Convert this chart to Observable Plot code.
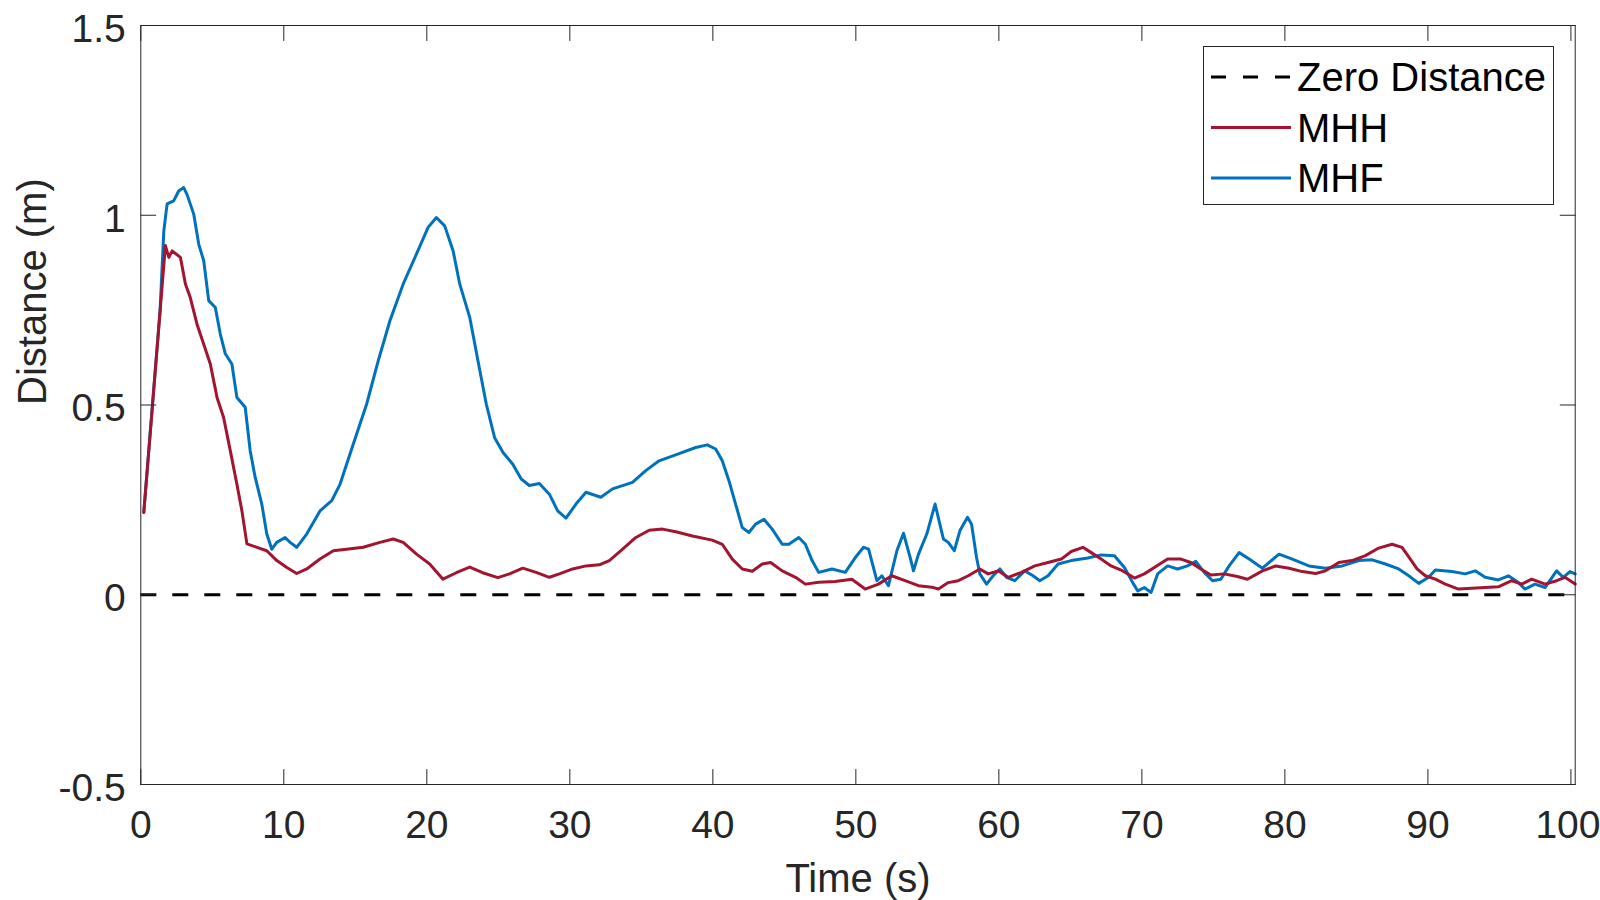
<!DOCTYPE html>
<html>
<head>
<meta charset="utf-8">
<script src="https://cdn.jsdelivr.net/npm/d3@7"></script>
<script src="https://cdn.jsdelivr.net/npm/@observablehq/plot@0.6"></script>
<style>
  html, body { margin: 0; padding: 0; background: #fff; }
  #chart { position: relative; width: 1600px; height: 900px; }
</style>
</head>
<body>
<div id="chart"></div>
<script>
// ---- data ----
const xTicks = [0, 10, 20, 30, 40, 50, 60, 70, 80, 90, 100];
const yTicks = [-0.5, 0, 0.5, 1, 1.5];
const xDomain = [0, 100.3];
const yDomain = [-0.5, 1.5];

const mhhTime = [0.21,1.72,1.96,2.19,2.77,3.12,3.46,3.93,4.4,4.86,5.33,5.79,6.26,6.72,7.07,7.42,8.12,8.81,9.51,10.21,10.9,11.6,12.53,13.46,14.39,15.55,16.72,17.65,18.35,19.28,20.2,21.13,22.06,23.0,23.9,24.97,25.78,26.71,27.64,28.57,29.27,30.2,31.13,32.06,32.76,33.69,34.62,35.55,36.48,37.41,38.57,39.96,40.66,41.36,42.06,42.76,43.45,44.04,44.85,45.78,46.47,47.4,48.56,49.72,50.65,51.58,52.51,53.44,54.38,55.31,55.77,56.46,57.16,57.86,58.67,59.25,59.95,60.65,61.58,62.51,63.44,64.37,65.06,65.88,66.46,67.15,67.85,68.55,69.48,70.17,70.87,71.8,72.73,73.42,74.12,74.82,75.75,76.68,77.38,78.43,79.36,80.29,81.22,82.15,82.84,83.77,84.7,85.63,86.56,87.49,88.19,88.77,89.24,89.82,90.52,91.22,92.14,93.07,94.0,94.93,95.86,96.56,97.26,98.19,99.0,99.58,100.3];
const mhhDist = [0.217,0.92,0.889,0.906,0.889,0.819,0.783,0.713,0.660,0.608,0.520,0.467,0.379,0.291,0.221,0.134,0.125,0.116,0.090,0.072,0.056,0.068,0.094,0.116,0.120,0.125,0.138,0.147,0.138,0.107,0.081,0.041,0.058,0.073,0.058,0.045,0.055,0.070,0.059,0.046,0.055,0.068,0.076,0.079,0.090,0.120,0.151,0.170,0.173,0.166,0.155,0.144,0.133,0.094,0.068,0.062,0.081,0.085,0.063,0.046,0.028,0.033,0.035,0.041,0.015,0.028,0.050,0.037,0.024,0.020,0.015,0.032,0.037,0.050,0.068,0.055,0.063,0.046,0.059,0.076,0.085,0.094,0.114,0.125,0.111,0.094,0.076,0.065,0.044,0.055,0.072,0.094,0.094,0.085,0.068,0.052,0.055,0.048,0.041,0.063,0.076,0.070,0.061,0.056,0.063,0.085,0.090,0.103,0.123,0.133,0.125,0.094,0.068,0.050,0.041,0.028,0.015,0.017,0.019,0.021,0.037,0.028,0.041,0.028,0.037,0.046,0.028];

const mhfTime = [0.21,1.35,1.61,1.84,2.3,2.65,3.0,3.23,3.7,4.05,4.4,4.75,5.21,5.56,5.91,6.37,6.72,7.3,7.65,8.0,8.46,8.81,9.16,9.51,10.09,10.44,10.9,11.6,12.53,13.35,13.93,14.86,15.79,16.6,17.42,18.35,19.28,20.09,20.67,21.25,21.84,22.3,23.0,23.58,24.16,24.74,25.33,26.01,26.6,27.17,27.87,28.57,29.15,29.73,30.43,31.13,32.17,32.99,34.38,35.31,36.24,37.64,38.8,39.61,40.2,40.66,41.13,41.59,42.06,42.52,42.99,43.57,44.15,44.85,45.31,46.01,46.47,46.94,47.4,48.33,49.26,49.96,50.54,50.89,51.47,51.82,52.28,52.87,53.33,53.8,54.03,54.38,54.96,55.54,56.12,56.46,56.88,57.28,57.81,58.09,58.44,58.67,59.14,59.6,60.07,60.53,61.11,61.81,62.39,62.86,63.44,64.14,65.06,66.22,67.15,68.08,68.78,69.36,69.71,70.17,70.64,71.1,71.8,72.5,73.19,73.77,74.36,74.94,75.52,76.1,76.8,77.5,78.43,79.59,80.52,81.68,82.84,84.01,85.17,86.1,87.03,87.96,88.66,89.36,90.05,90.52,91.68,92.61,93.31,94.0,94.93,95.63,96.33,96.79,97.49,98.19,99.0,99.47,99.93,100.3];
const mhfDist = [0.217,0.75,0.959,1.03,1.038,1.064,1.073,1.055,1.003,0.924,0.880,0.775,0.757,0.687,0.635,0.608,0.520,0.494,0.379,0.309,0.239,0.160,0.120,0.138,0.151,0.138,0.125,0.160,0.221,0.248,0.291,0.397,0.502,0.616,0.722,0.819,0.898,0.968,0.994,0.972,0.906,0.819,0.731,0.616,0.502,0.414,0.375,0.344,0.305,0.288,0.293,0.265,0.221,0.202,0.239,0.270,0.257,0.279,0.296,0.327,0.353,0.372,0.388,0.395,0.384,0.353,0.300,0.239,0.177,0.164,0.186,0.199,0.173,0.133,0.133,0.151,0.133,0.090,0.059,0.068,0.059,0.098,0.125,0.120,0.037,0.050,0.024,0.116,0.162,0.098,0.063,0.107,0.160,0.239,0.147,0.138,0.116,0.169,0.204,0.186,0.098,0.055,0.028,0.050,0.068,0.046,0.037,0.063,0.050,0.037,0.050,0.081,0.090,0.097,0.105,0.103,0.072,0.032,0.010,0.019,0.006,0.055,0.076,0.068,0.076,0.088,0.059,0.037,0.041,0.076,0.111,0.094,0.070,0.107,0.094,0.076,0.070,0.076,0.090,0.092,0.081,0.068,0.050,0.030,0.046,0.065,0.061,0.055,0.063,0.046,0.039,0.050,0.032,0.015,0.028,0.019,0.063,0.046,0.061,0.055];

const legendLabels = ["Zero Distance", "MHH", "MHF"];
const legendColors = ["#000000", "#A2142F", "#0072BD"];
const legendDash = ["16,16", null, null];

// ---- build tables ----
const mhh = mhhTime.map((t, i) => ({t, d: mhhDist[i]}));
const mhf = mhfTime.map((t, i) => ({t, d: mhfDist[i]}));

const axisColor = "#262626";
const fontFamily = "'Liberation Sans', Arial, sans-serif";
const tickLine = {draw(ctx, l) { ctx.moveTo(0, 0); ctx.lineTo(0, -l); }};
const fmt = d => String(d);
const lastX = xTicks[xTicks.length - 1];

const plot = Plot.plot({
  width: 1600,
  height: 900,
  marginLeft: 140.3,
  marginRight: 25.3,
  marginTop: 25,
  marginBottom: 116,
  style: {fontFamily, color: axisColor, background: "#fff", overflow: "visible"},
  x: {domain: xDomain},
  y: {domain: yDomain},
  marks: [
    Plot.ruleY([0], {stroke: legendColors[0], strokeWidth: 3, strokeDasharray: legendDash[0]}),
    Plot.line(mhf, {x: "t", y: "d", stroke: legendColors[2], strokeWidth: 3, strokeLinejoin: "round"}),
    Plot.line(mhh, {x: "t", y: "d", stroke: legendColors[1], strokeWidth: 3, strokeLinejoin: "round"}),
    Plot.frame({stroke: axisColor, strokeWidth: 1}),
    // inward tick marks on all four sides
    Plot.vector(xTicks, {x: d => d, y: yDomain[0], length: 15, rotate: 0, anchor: "start", shape: tickLine, stroke: axisColor, strokeWidth: 1}),
    Plot.vector(xTicks, {x: d => d, y: yDomain[1], length: 15, rotate: 180, anchor: "start", shape: tickLine, stroke: axisColor, strokeWidth: 1}),
    Plot.vector(yTicks, {y: d => d, x: xDomain[0], length: 15, rotate: 90, anchor: "start", shape: tickLine, stroke: axisColor, strokeWidth: 1}),
    Plot.vector(yTicks, {y: d => d, x: xDomain[1], length: 15, rotate: -90, anchor: "start", shape: tickLine, stroke: axisColor, strokeWidth: 1}),
    Plot.axisX({ticks: xTicks.filter(d => d !== lastX), tickSize: 0, tickPadding: 26, fontSize: 39, label: null, tickFormat: fmt}),
    Plot.axisX({ticks: [lastX], tickSize: 0, tickPadding: 26, fontSize: 39, dx: -3, label: null, tickFormat: fmt}),
    Plot.axisY({ticks: yTicks, tickSize: 0, tickPadding: 15, fontSize: 39, dy: 4, label: null, tickFormat: fmt}),
    Plot.text(["Time (s)"], {frameAnchor: "bottom", lineAnchor: "top", dy: 79, fontSize: 40, fill: axisColor}),
    Plot.text(["Distance (m)"], {frameAnchor: "left", rotate: -90, dx: -108, fontSize: 40, fill: axisColor})
  ]
});

document.getElementById("chart").appendChild(plot);

// ---- legend (inside the axes, top right) ----
const svg = d3.select(plot);
const lg = svg.append("g").attr("font-family", fontFamily).attr("text-anchor", "start");
lg.append("rect").attr("x", 1203.5).attr("y", 46.5).attr("width", 350).attr("height", 158)
  .attr("fill", "#fff").attr("stroke", axisColor).attr("stroke-width", 1);
legendLabels.forEach((lab, i) => {
  const cy = 77 + 50.5 * i;
  const ln = lg.append("line").attr("x1", 1211).attr("x2", 1291).attr("y1", cy).attr("y2", cy)
    .attr("stroke", legendColors[i]).attr("stroke-width", 3);
  if (legendDash[i]) ln.attr("stroke-dasharray", "15,17");
  lg.append("text").attr("x", 1297).attr("y", cy + 14).attr("font-size", 40)
    .attr("text-anchor", "start").attr("fill", "#000").text(lab);
});
</script>
</body>
</html>
